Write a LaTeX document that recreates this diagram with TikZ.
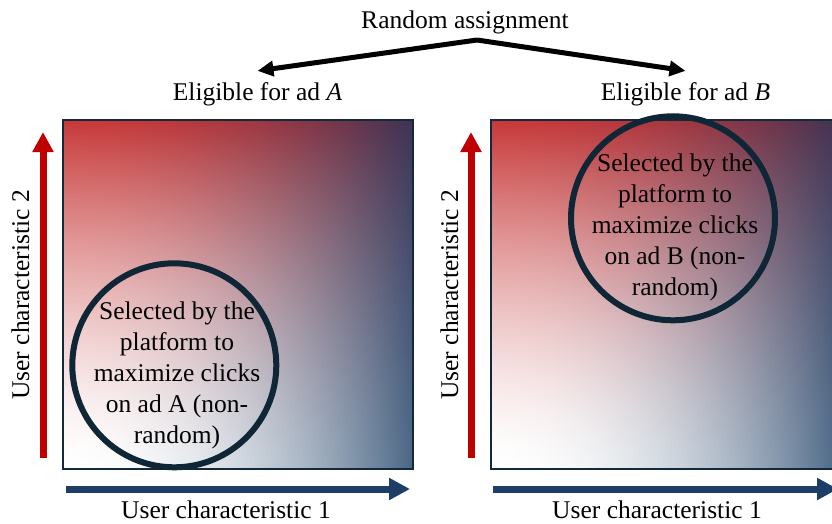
\documentclass[tikz,border=0pt]{standalone}
\usepackage{fontspec}
\setmainfont{Liberation Serif}
\usetikzlibrary{arrows.meta}

\definecolor{axisred}{HTML}{C00000}
\definecolor{axisblue}{HTML}{1D3F67}
\definecolor{ringnavy}{HTML}{0E2636}
\definecolor{framenavy}{HTML}{14293C}

% white (bottom left), blue (bottom right), red (top left), dark (top right)
\pgfdeclarefunctionalshading{redblue}{\pgfpointorigin}{\pgfpoint{100bp}{100bp}}{}{
  25 sub 50 div abs 1.5 exp
  exch 25 sub 50 div abs dup mul
  dup -0.71 mul 2 index -0.22 mul add 2 index 2 index mul 0.17 mul add 1 add 3 1 roll
  dup -0.60 mul 2 index -0.78 mul add 2 index 2 index mul 0.58 mul add 1 add 3 1 roll
  dup -0.48 mul 2 index -0.78 mul add 2 index 2 index mul 0.59 mul add 1 add 3 1 roll
  pop pop
}

\begin{document}
\begin{tikzpicture}
  [x=1pt,y=-1pt,
   every node/.style={font=\fontsize{25.5}{31}\selectfont,inner sep=0pt},
   panel/.style={draw=framenavy,line width=2pt,shade,shading=redblue,minimum width=350pt,minimum height=349pt},
   pick/.style={circle,draw=ringnavy,line width=6pt,minimum size=204pt},
   picktext/.style={align=center},
   axisy/.style={axisred,line width=7pt,-{Triangle[length=20pt,width=20pt]}},
   axisx/.style={axisblue,line width=7pt,-{Triangle[length=21pt,width=21pt]}},
   assign/.style={black,line width=5pt,-{Triangle[length=16pt,width=15pt]}}]

  \useasboundingbox (0,0) rectangle (832,523);

  % Asignacion aleatoria arriba
  \node[anchor=base] (rand) at (465,28) {Random assignment};
  \coordinate (split) at (477,40);
  \node[anchor=base] (elA) at (257.5,100) {Eligible for ad \textit{A}};
  \node[anchor=base] (elB) at (685.5,100) {Eligible for ad \textit{B}};
  \draw[assign] (split) -- ([yshift=11pt]elA.north);
  \draw[assign] (split) -- ([yshift=11pt]elB.north);

  % Paneles con degradado
  \node[panel] (pa) at (238,294.5) {};
  \node[panel] (pb) at (666,294.5) {};

  % Circulos seleccionados por la plataforma
  \node[pick] (ca) at (174.3,365.3) {};
  \node[picktext] (ta) at (177,375) {Selected by the\\platform to\\maximize clicks\\on ad A (non-\\random)};
  \node[pick] (cb) at (673,218.3) {};
  \node[picktext] (tb) at (675,227.5) {Selected by the\\platform to\\maximize clicks\\on ad B (non-\\random)};

  % Ejes
  \coordinate (ya0) at (43,458);  \coordinate (ya1) at (43,132);
  \coordinate (yb0) at (471,458); \coordinate (yb1) at (471,132);
  \coordinate (xa0) at (66,489);  \coordinate (xa1) at (410,489);
  \coordinate (xb0) at (493,489); \coordinate (xb1) at (838,489);
  \foreach \from/\to in {ya0/ya1, yb0/yb1}
    \draw[axisy] (\from) -- (\to);
  \foreach \from/\to in {xa0/xa1, xb0/xb1}
    \draw[axisx] (\from) -- (\to);

  % Etiquetas de los ejes
  \node[anchor=base] (la) at (226,518) {User characteristic 1};
  \node[anchor=base] (lb) at (657,518) {User characteristic 1};
  \node[anchor=base,rotate=90] (va) at (29,295) {User characteristic 2};
  \node[anchor=base,rotate=90] (vb) at (458,295) {User characteristic 2};

\end{tikzpicture}
\end{document}
